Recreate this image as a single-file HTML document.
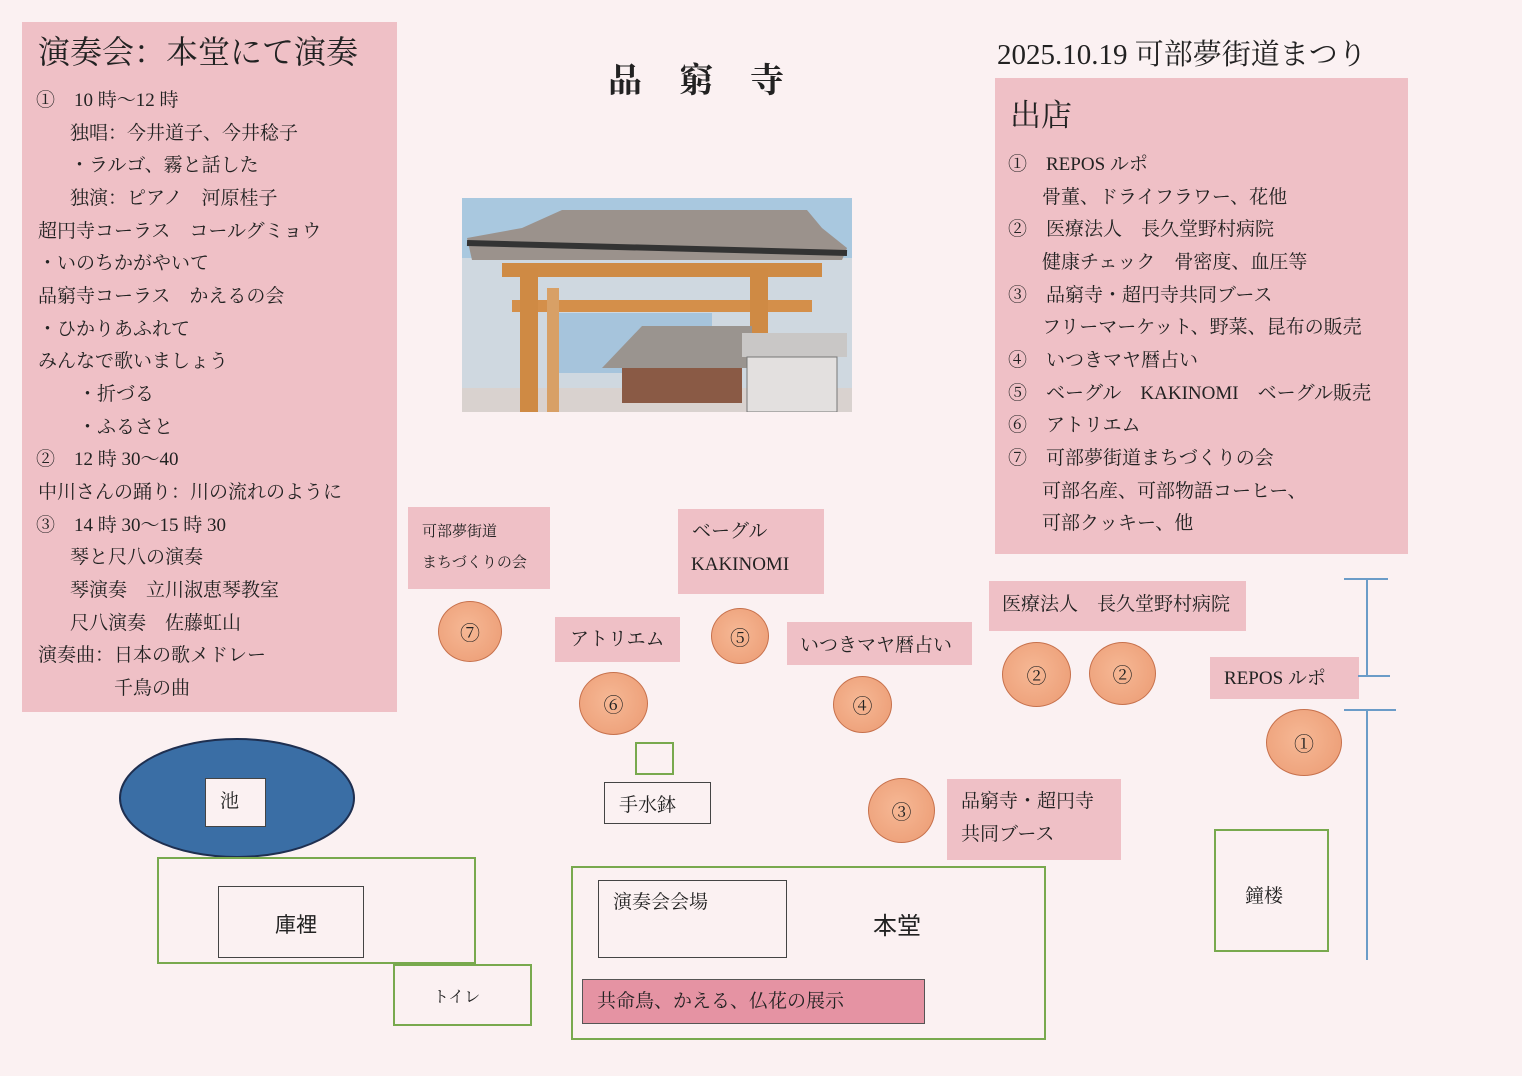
<!DOCTYPE html>
<html><head><meta charset="utf-8">
<style>
*{margin:0;padding:0;box-sizing:border-box}
body{width:1522px;height:1076px;background:#fbf1f2;position:relative;overflow:hidden;font-family:"Liberation Serif","Noto Serif CJK SC","Noto Sans CJK JP",serif;color:#222}
.a{position:absolute}
.pk{position:absolute;background:#efc0c6}
.t{position:absolute;white-space:nowrap;font-size:19px;line-height:20px}
.c{position:absolute;border-radius:50%;background:radial-gradient(circle at 45% 45%,#f6b895,#eb9a72);border:1.5px solid #c7714c;display:flex;align-items:center;justify-content:center;font-size:20px}
.g{position:absolute;border:2px solid #78a94e}
.k{position:absolute;border:1.5px solid #444}
</style></head><body>

<div class="pk" style="left:22px;top:22px;width:375px;height:690px"></div>
<div class="t" style="left:38px;top:34px;font-size:32px;line-height:36px">演奏会：本堂にて演奏</div>
<div class="t" style="left:36px;top:91px">①　10 時～12 時</div>
<div class="t" style="left:70px;top:124px">独唱：今井道子、今井稔子</div>
<div class="t" style="left:70px;top:156px">・ラルゴ、霧と話した</div>
<div class="t" style="left:70px;top:189px">独演：ピアノ　河原桂子</div>
<div class="t" style="left:38px;top:222px">超円寺コーラス　コールグミョウ</div>
<div class="t" style="left:38px;top:254px">・いのちかがやいて</div>
<div class="t" style="left:38px;top:287px">品窮寺コーラス　かえるの会</div>
<div class="t" style="left:38px;top:320px">・ひかりあふれて</div>
<div class="t" style="left:38px;top:352px">みんなで歌いましょう</div>
<div class="t" style="left:78px;top:385px">・折づる</div>
<div class="t" style="left:78px;top:418px">・ふるさと</div>
<div class="t" style="left:36px;top:450px">②　12 時 30～40</div>
<div class="t" style="left:38px;top:483px">中川さんの踊り：川の流れのように</div>
<div class="t" style="left:36px;top:516px">③　14 時 30～15 時 30</div>
<div class="t" style="left:70px;top:548px">琴と尺八の演奏</div>
<div class="t" style="left:70px;top:581px">琴演奏　立川淑恵琴教室</div>
<div class="t" style="left:70px;top:614px">尺八演奏　佐藤虹山</div>
<div class="t" style="left:38px;top:646px">演奏曲：日本の歌メドレー</div>
<div class="t" style="left:114px;top:679px">千鳥の曲</div>

<div class="t" style="left:608px;top:62px;font-size:34px;line-height:40px;font-weight:bold;letter-spacing:37px">品窮寺</div>
<div class="t" style="left:997px;top:40px;font-size:29px;line-height:30px">2025.10.19 可部夢街道まつり</div>

<div class="pk" style="left:995px;top:78px;width:413px;height:476px"></div>
<div class="t" style="left:1010px;top:98px;font-size:31px;line-height:36px">出店</div>
<div class="t" style="left:1008px;top:155px">①　REPOS ルポ</div>
<div class="t" style="left:1042px;top:188px">骨董、ドライフラワー、花他</div>
<div class="t" style="left:1008px;top:220px">②　医療法人　長久堂野村病院</div>
<div class="t" style="left:1042px;top:253px">健康チェック　骨密度、血圧等</div>
<div class="t" style="left:1008px;top:286px">③　品窮寺・超円寺共同ブース</div>
<div class="t" style="left:1042px;top:318px">フリーマーケット、野菜、昆布の販売</div>
<div class="t" style="left:1008px;top:351px">④　いつきマヤ暦占い</div>
<div class="t" style="left:1008px;top:384px">⑤　ベーグル　KAKINOMI　ベーグル販売</div>
<div class="t" style="left:1008px;top:416px">⑥　アトリエム</div>
<div class="t" style="left:1008px;top:449px">⑦　可部夢街道まちづくりの会</div>
<div class="t" style="left:1042px;top:482px">可部名産、可部物語コーヒー、</div>
<div class="t" style="left:1042px;top:514px">可部クッキー、他</div>

<!-- picture -->
<svg class="a" style="left:462px;top:198px" width="390" height="214" viewBox="0 0 390 214">
<rect width="390" height="214" fill="#cfd8e0"/>
<rect x="0" y="0" width="390" height="60" fill="#a9c8df"/>
<rect x="90" y="115" width="160" height="60" fill="#a6c4dc"/>
<rect x="0" y="190" width="390" height="24" fill="#d9d2cf"/>
<path d="M100 12 L345 12 L360 30 L385 50 L380 62 L10 62 L5 40 L60 30 Z" fill="#9b928c"/>
<path d="M5 45 L385 55" stroke="#333" stroke-width="6"/>
<rect x="40" y="65" width="320" height="14" fill="#cf8b45"/>
<rect x="50" y="102" width="300" height="12" fill="#d48f4a"/>
<rect x="58" y="70" width="18" height="144" fill="#cf8a44"/>
<rect x="85" y="90" width="12" height="124" fill="#d8a066"/>
<rect x="288" y="70" width="18" height="144" fill="#cf8a44"/>
<path d="M140 170 L180 128 L290 128 L290 170 Z" fill="#9a948f"/>
<rect x="160" y="170" width="120" height="35" fill="#8a5a45"/>
<rect x="280" y="135" width="105" height="24" fill="#c9c7c6"/>
<rect x="285" y="159" width="90" height="55" fill="#e3e0df" stroke="#777"/>
</svg>

<!-- booths -->
<div class="pk" style="left:408px;top:507px;width:142px;height:82px"></div>
<div class="t" style="left:422px;top:522px;font-size:15px">可部夢街道</div>
<div class="t" style="left:422px;top:553px;font-size:15px">まちづくりの会</div>
<div class="pk" style="left:678px;top:509px;width:146px;height:85px"></div>
<div class="t" style="left:692px;top:522px">ベーグル</div>
<div class="t" style="left:691px;top:555px">KAKINOMI</div>
<div class="pk" style="left:555px;top:617px;width:125px;height:45px"></div>
<div class="t" style="left:570px;top:630px">アトリエム</div>
<div class="pk" style="left:787px;top:622px;width:185px;height:43px"></div>
<div class="t" style="left:800px;top:636px">いつきマヤ暦占い</div>
<div class="pk" style="left:989px;top:581px;width:257px;height:50px"></div>
<div class="t" style="left:1002px;top:595px">医療法人　長久堂野村病院</div>
<div class="pk" style="left:1210px;top:657px;width:149px;height:42px"></div>
<div class="t" style="left:1224px;top:669px">REPOS ルポ</div>
<div class="pk" style="left:947px;top:779px;width:174px;height:81px"></div>
<div class="t" style="left:961px;top:792px">品窮寺・超円寺</div>
<div class="t" style="left:961px;top:825px">共同ブース</div>

<div class="c" style="left:438px;top:601px;width:64px;height:61px">⑦</div>
<div class="c" style="left:711px;top:608px;width:58px;height:56px">⑤</div>
<div class="c" style="left:579px;top:672px;width:69px;height:63px">⑥</div>
<div class="c" style="left:833px;top:676px;width:59px;height:57px">④</div>
<div class="c" style="left:1002px;top:642px;width:69px;height:65px">②</div>
<div class="c" style="left:1089px;top:642px;width:67px;height:63px">②</div>
<div class="c" style="left:1266px;top:709px;width:76px;height:67px">①</div>
<div class="c" style="left:868px;top:778px;width:67px;height:65px">③</div>

<svg class="a" style="left:0;top:0" width="1522" height="1076">
<g stroke="#6b9cc8" stroke-width="2" fill="none">
<path d="M1344 579H1388M1367 579V676M1358 676H1390M1344 710H1396M1367 710V960"/>
</g>
<ellipse cx="237" cy="798" rx="117" ry="59" fill="#3a6ea5" stroke="#1e2f50" stroke-width="2"/>
</svg>
<div class="a" style="left:205px;top:778px;width:61px;height:49px;background:#fbf1f2;border:1px solid #444"></div>
<div class="t" style="left:220px;top:792px">池</div>

<div class="g" style="left:635px;top:742px;width:39px;height:33px"></div>
<div class="k" style="left:604px;top:782px;width:107px;height:42px"></div>
<div class="t" style="left:619px;top:796px">手水鉢</div>

<div class="g" style="left:157px;top:857px;width:319px;height:107px"></div>
<div class="k" style="left:218px;top:886px;width:146px;height:72px"></div>
<div class="t" style="left:275px;top:914px;font-size:21px;line-height:24px;font-family:'Liberation Sans','Noto Sans CJK JP',sans-serif">庫裡</div>
<div class="g" style="left:393px;top:964px;width:139px;height:62px;background:#fbf1f2"></div>
<div class="t" style="left:433px;top:988px;font-size:16px">トイレ</div>

<div class="g" style="left:571px;top:866px;width:475px;height:174px"></div>
<div class="k" style="left:598px;top:880px;width:189px;height:78px"></div>
<div class="t" style="left:613px;top:893px">演奏会会場</div>
<div class="t" style="left:873px;top:913px;font-size:24px;line-height:28px;font-family:'Liberation Sans','Noto Sans CJK JP',sans-serif">本堂</div>
<div class="a" style="left:582px;top:979px;width:343px;height:45px;background:#e593a3;border:1.5px solid #555"></div>
<div class="t" style="left:597px;top:992px">共命鳥、かえる、仏花の展示</div>

<div class="g" style="left:1214px;top:829px;width:115px;height:123px"></div>
<div class="t" style="left:1245px;top:887px">鐘楼</div>
</body></html>
